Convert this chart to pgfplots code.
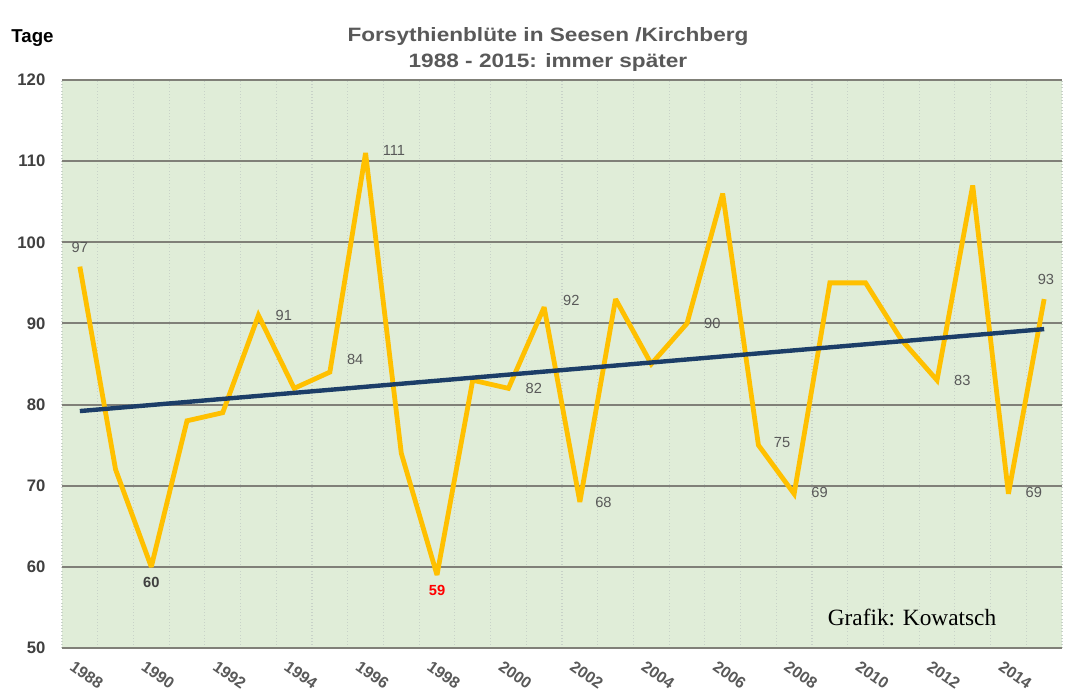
\documentclass[border=0pt]{standalone}
\usepackage{pgfplots}
\pgfplotsset{compat=1.18}
\usepackage{fontspec}
\setmainfont{Liberation Sans}
\newfontfamily\seriffont{Liberation Serif}
\definecolor{bg}{RGB}{224,237,216}
\definecolor{lineY}{RGB}{255,192,0}
\definecolor{trend}{RGB}{28,62,104}
\definecolor{txt}{RGB}{89,89,89}
\definecolor{dtxt}{RGB}{64,64,64}
\definecolor{gridc}{RGB}{128,128,120}
\definecolor{vgrid}{RGB}{200,210,200}
\tikzset{lbl/.style={font=\fontsize{11}{11}\selectfont, text=txt}}
\begin{document}
\begin{tikzpicture}
\useasboundingbox (0,0) rectangle (807.75pt,522.75pt);
\begin{axis}[
  at={(46.5pt,36.75pt)}, anchor=south west,
  scale only axis, width=750pt, height=426pt,
  xmin=1987.5, xmax=2015.5, ymin=50, ymax=120,
  xtick={1988,1990,...,2014},
  minor xtick={1987.5,1988.5,...,2015.5},
  ytick={50,60,...,120},
  ymajorgrids, xminorgrids,
  major grid style={gridc, line width=1.4pt},
  minor grid style={vgrid, dotted, line width=0.8pt},
  tick style={draw=none},
  /pgf/number format/assume math mode=true,
  /pgf/number format/1000 sep={},
  x tick label style={rotate=-35, anchor=north west, font=\bfseries\fontsize{12}{12}\selectfont, text=txt, xshift=-1pt, yshift=-6pt},
  y tick label style={font=\bfseries\fontsize{12.5}{12.5}\selectfont, text=dtxt, xshift=-9pt},
  axis background/.style={fill=bg},
  x axis line style={draw=none},
  y axis line style={gray, line width=1pt},
  clip=false,
]
\addplot[lineY, line width=3.6pt, miter limit=3] coordinates {
(1988,97) (1989,72) (1990,60) (1991,78) (1992,79) (1993,91) (1994,82)
(1995,84) (1996,111) (1997,74) (1998,59) (1999,83) (2000,82) (2001,92)
(2002,68) (2003,93) (2004,85) (2005,90) (2006,106) (2007,75) (2008,69)
(2009,95) (2010,95) (2011,88) (2012,83) (2013,107) (2014,69) (2015,93)
};
\addplot[trend, line width=3.3pt] coordinates {(1988,79.2) (2015,89.3)};
\node[lbl, anchor=south] at (axis cs:1988,98.2) {97};
\node[anchor=north, text=dtxt, font=\bfseries\fontsize{11}{11}\selectfont] at (axis cs:1990,59.3) {60};
\node[lbl, anchor=west] at (axis cs:1993.35,91) {91};
\node[lbl, anchor=west] at (axis cs:1995.35,85.5) {84};
\node[lbl, anchor=west] at (axis cs:1996.35,111.3) {111};
\node[anchor=north, text=red, font=\bfseries\fontsize{11}{11}\selectfont] at (axis cs:1998,58.3) {59};
\node[lbl, anchor=west] at (axis cs:2000.35,82) {82};
\node[lbl, anchor=west] at (axis cs:2001.4,92.8) {92};
\node[lbl, anchor=west] at (axis cs:2002.3,67.9) {68};
\node[lbl, anchor=west] at (axis cs:2005.35,90) {90};
\node[lbl, anchor=west] at (axis cs:2007.3,75.3) {75};
\node[lbl, anchor=west] at (axis cs:2008.35,69.2) {69};
\node[lbl, anchor=west] at (axis cs:2012.35,83) {83};
\node[lbl, anchor=west] at (axis cs:2014.35,69.2) {69};
\node[lbl, anchor=south] at (axis cs:2015.05,94.2) {93};
\node[text=black, font=\seriffont\fontsize{17.5}{17.5}\selectfont] at (axis cs:2011.3,53.8) {Grafik: Kowatsch};
\end{axis}
\node[anchor=west, font=\bfseries\fontsize{14}{14}\selectfont] at (5pt,494pt) {Tage};
\node[font=\bfseries\fontsize{14.5}{19}\selectfont, text=txt, align=center] at (411pt,485.5pt) {\scalebox{1.17}[1]{Forsythienblüte in Seesen /Kirchberg}\\\scalebox{1.17}[1]{1988 - 2015: immer später}};
\end{tikzpicture}
\end{document}
